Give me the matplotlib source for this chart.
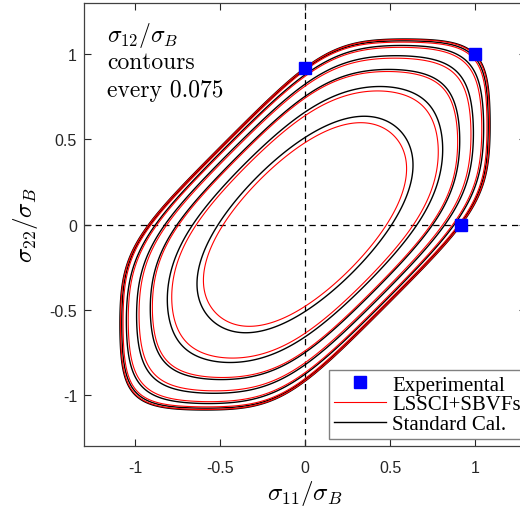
import numpy as np
import matplotlib
matplotlib.use("Agg")
import matplotlib.pyplot as plt
from matplotlib.lines import Line2D

# ---- data ----
shear_levels = [0.0, 0.075, 0.15, 0.225, 0.30, 0.375, 0.45]         # sigma12/sigmaB contour levels
level_exponent = [8.0, 8.0, 7.0, 6.5, 6.0, 5.0, 4.0]                # shape exponent of each contour
standard_scale = [1.000, 0.990, 0.955, 0.895, 0.817, 0.717, 0.555]   # size of each contour (Standard Cal.)
lssci_scale = [0.997, 0.983, 0.945, 0.882, 0.806, 0.694, 0.522]      # size of each contour (LSSCI+SBVFs)
uniaxial_ratio = 0.92      # uniaxial / equibiaxial yield stress of the sigma12 = 0 contour
exp_s11 = [0.0, 1.0, 0.92]
exp_s22 = [0.92, 1.0, 0.0]
xticks = [-1, -0.5, 0, 0.5, 1]
yticks = [-1, -0.5, 0, 0.5, 1]
ticklabels = ['-1', '-0.5', '0', '0.5', '1']

plt.rcParams['mathtext.fontset'] = 'cm'

fig = plt.figure(figsize=(5.2, 5.1), dpi=100)
ax = fig.add_axes([84/520, 63/510, 442/520, 443/510])

s = np.linspace(-1.3, 1.3, 1201)
X, Y = np.meshgrid(s, s)


def shape(a):
    b = 2.0 / uniaxial_ratio**a - 1.0
    phi = np.abs(X)**a + np.abs(Y)**a + b*np.abs(X - Y)**a
    return (phi / 2.0)**(1.0/a)


ax.axhline(0, color='k', ls=(0, (5, 4)), lw=0.9, zorder=1)
ax.axvline(0, color='k', ls=(0, (5, 4)), lw=0.9, zorder=1)

for a, rb, rr in zip(level_exponent, standard_scale, lssci_scale):
    Z = shape(a)
    ax.contour(X, Y, Z, levels=[rb], colors='black', linewidths=1.0, zorder=2)
    ax.contour(X, Y, Z, levels=[rr], colors='#ff0000', linewidths=0.8, zorder=3)

ax.plot(exp_s11, exp_s22, ls='none', marker='s', ms=8.5, mfc='#0000ff', mec='#0000ff', zorder=5)

ax.set_xlim(-1.3, 1.3)
ax.set_ylim(-1.3, 1.3)
ax.set_xticks(xticks)
ax.set_yticks(yticks)
ax.set_xticklabels(ticklabels)
ax.set_yticklabels(ticklabels)
ax.tick_params(direction='in', top=True, right=True, length=5, width=0.8,
               labelsize=11.5, colors='#262626')
ax.tick_params(axis='x', pad=10)
ax.tick_params(axis='y', pad=5)
for lab in ax.get_xticklabels() + ax.get_yticklabels():
    lab.set_fontfamily('Liberation Sans')
for sp in ax.spines.values():
    sp.set_color('#404040')
    sp.set_linewidth(0.9)

ax.set_xlabel(r'$\sigma_{11}/\sigma_B$', fontsize=18, labelpad=2)
ax.set_ylabel(r'$\sigma_{22}/\sigma_B$', fontsize=18, labelpad=7)

ax.text(23/442, (447-35)/443, r'$\sigma_{12}/\sigma_B$', transform=ax.transAxes,
        fontsize=17, ha='left', va='center')
ax.text(23/442, (447-63)/443, 'contours', family='cmr10', transform=ax.transAxes,
        fontsize=17, ha='left', va='center')
ax.text(23/442, (447-91)/443, 'every 0.075', family='cmr10', transform=ax.transAxes,
        fontsize=17, ha='left', va='center')

handles = [Line2D([], [], ls='none', marker='s', ms=8.5, mfc='#0000ff', mec='#0000ff'),
           Line2D([], [], color='#ff0000', lw=0.8),
           Line2D([], [], color='black', lw=1.0)]
leg = ax.legend(handles, ['Experimental', 'LSSCI+SBVFs', 'Standard Cal.'],
                loc='lower right', bbox_to_anchor=(1.0, 7/443),
                prop={'family': 'Liberation Serif', 'size': 15},
                fancybox=False, framealpha=1, edgecolor='#808080',
                handlelength=2.5, handletextpad=0.3, labelspacing=0.0,
                borderpad=0.25, borderaxespad=0.0)
leg.get_frame().set_linewidth(1.0)

fig.savefig('out.png', dpi=100)
